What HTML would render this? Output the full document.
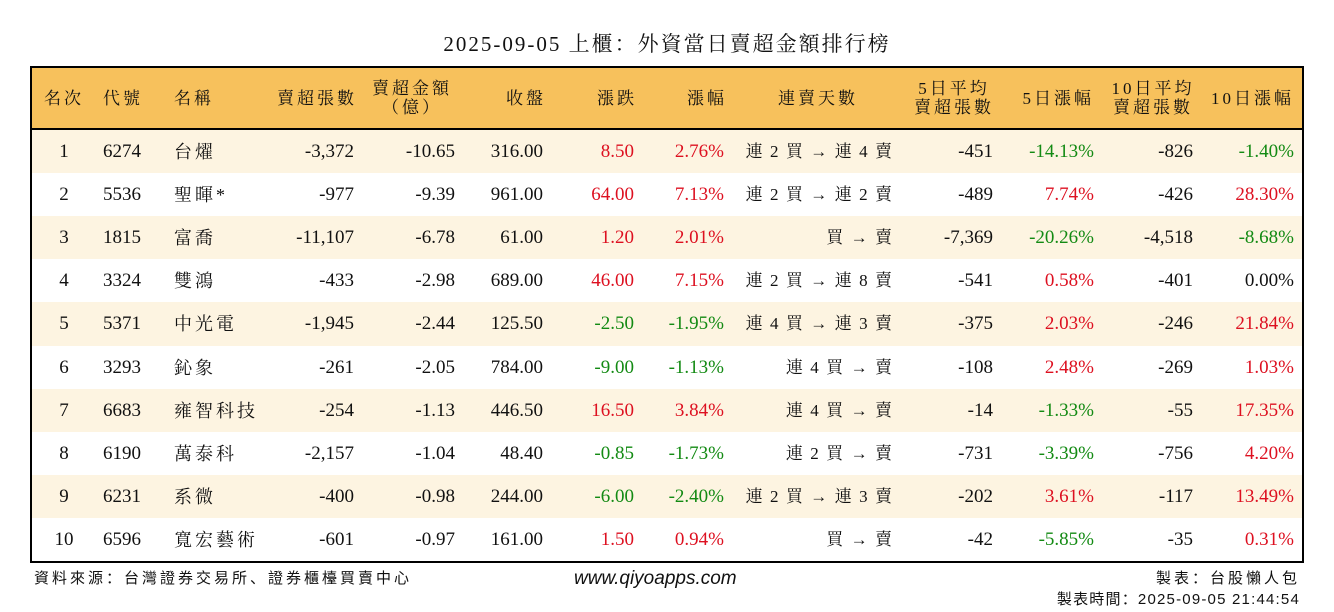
<!DOCTYPE html>
<html><head><meta charset="utf-8">
<style>
body{margin:0;width:1334px;height:612px;background:#fff;position:relative;overflow:hidden;font-family:"Liberation Serif","Noto Serif CJK SC",serif;color:#111}
.a{position:absolute;white-space:nowrap}
#title{left:0;width:1334px;top:28px;text-align:center;font-size:21px;letter-spacing:2px}
#tbl{position:absolute;left:30px;top:66px;width:1270px;height:493px;border:2px solid #000;overflow:hidden}
#hdr{position:absolute;left:0;top:0;width:1270px;height:60px;background:#f7c15c;border-bottom:2px solid #000}
.h{position:absolute;font-size:17px;line-height:19px;text-align:center;letter-spacing:3px}
.row{position:absolute;left:0;width:1270px;height:43.2px}
.c{position:absolute;font-size:19px;top:11px;line-height:22px;white-space:nowrap}
.cj{letter-spacing:3px;font-size:18px}
.r{color:#dd1020}.g{color:#138a13}
.ft{font-family:"Liberation Sans","Noto Sans CJK SC",sans-serif;font-size:15px;letter-spacing:3px}
</style></head><body>
<div class="a" id="title">2025-09-05 上櫃：外資當日賣超金額排行榜</div>
<div id="tbl">
<div id="hdr">
<div class="h" style="left:2px;width:60px;top:21px">名次</div>
<div class="h" style="left:71px;top:21px">代號</div>
<div class="h" style="left:142px;top:21px">名稱</div>
<div class="h" style="right:945px;top:21px">賣超張數</div>
<div class="h" style="left:330px;width:100px;top:11px">賣超金額<br>（億）</div>
<div class="h" style="right:756px;top:21px">收盤</div>
<div class="h" style="right:665px;top:21px">漲跌</div>
<div class="h" style="right:575px;top:21px">漲幅</div>
<div class="h" style="left:736px;width:100px;top:21px">連賣天數</div>
<div class="h" style="left:872px;width:100px;top:11px">5日平均<br>賣超張數</div>
<div class="h" style="right:208px;top:21px">5日漲幅</div>
<div class="h" style="left:1071px;width:100px;top:11px">10日平均<br>賣超張數</div>
<div class="h" style="right:8px;top:21px">10日漲幅</div>
</div>
</div>
<div class="a ft" style="left:34px;top:567px">資料來源：台灣證券交易所、證券櫃檯買賣中心</div>
<div class="a" style="left:574px;top:568px;font-family:'Liberation Sans',sans-serif;font-style:italic;font-size:19px">www.qiyoapps.com</div>
<div class="a ft" style="right:34px;top:567px">製表：台股懶人包</div>
<div class="a ft" style="right:34px;top:588px;letter-spacing:1.2px">製表時間：2025-09-05 21:44:54</div>
<script>
const codes=["6274","5536","1815","3324","5371","3293","6683","6190","6231","6596"];
const names=["台燿","聖暉*","富喬","雙鴻","中光電","鈊象","雍智科技","萬泰科","系微","寬宏藝術"];
const shares=["-3,372","-977","-11,107","-433","-1,945","-261","-254","-2,157","-400","-601"];
const amounts=["-10.65","-9.39","-6.78","-2.98","-2.44","-2.05","-1.13","-1.04","-0.98","-0.97"];
const closes=["316.00","961.00","61.00","689.00","125.50","784.00","446.50","48.40","244.00","161.00"];
const changes=["8.50","64.00","1.20","46.00","-2.50","-9.00","16.50","-0.85","-6.00","1.50"];
const pcts=["2.76%","7.13%","2.01%","7.15%","-1.95%","-1.13%","3.84%","-1.73%","-2.40%","0.94%"];
const streaks=["連 2 買 → 連 4 賣","連 2 買 → 連 2 賣","買 → 賣","連 2 買 → 連 8 賣","連 4 買 → 連 3 賣","連 4 買 → 賣","連 4 買 → 賣","連 2 買 → 賣","連 2 買 → 連 3 賣","買 → 賣"];
const avg5=["-451","-489","-7,369","-541","-375","-108","-14","-731","-202","-42"];
const pct5=["-14.13%","7.74%","-20.26%","0.58%","2.03%","2.48%","-1.33%","-3.39%","3.61%","-5.85%"];
const avg10=["-826","-426","-4,518","-401","-246","-269","-55","-756","-117","-35"];
const pct10=["-1.40%","28.30%","-8.68%","0.00%","21.84%","1.03%","17.35%","4.20%","13.49%","0.31%"];
const tbl=document.getElementById('tbl');
function col(v){const n=parseFloat(v.replace(/,/g,''));return n>0?'r':n<0?'g':'';}
function cell(row,txt,style,cls,nm){
  const d=document.createElement('div');
  d.className='c '+(cls||'');d.style.cssText=style;d.textContent=txt;
  
  
  row.appendChild(d);
}
for(let i=0;i<codes.length;i++){
  const row=document.createElement('div');
  row.className='row';
  row.style.top=(62+i*43.1)+'px';
  row.style.background=i%2===0?'#fdf4e1':'#fff';
  
  
  cell(row,String(i+1),'left:2px;width:60px;text-align:center','', 'rank');
  cell(row,codes[i],'left:71px','','stock-code');
  cell(row,names[i],'left:142px;top:11px','cj','stock-name');
  cell(row,shares[i],'right:948px','','sell-shares');
  cell(row,amounts[i],'right:847px','','sell-amount');
  cell(row,closes[i],'right:759px','','close-price');
  cell(row,changes[i],'right:668px',col(changes[i]),'price-change');
  cell(row,pcts[i],'right:578px',col(pcts[i]),'change-pct');
  cell(row,streaks[i].replace(/ /g,'\u2009'),'right:408px;top:11px;font-size:17px;letter-spacing:2px','','streak');
  cell(row,avg5[i],'right:309px','','avg-5d');
  cell(row,pct5[i],'right:208px',col(pct5[i]),'pct-5d');
  cell(row,avg10[i],'right:109px','','avg-10d');
  cell(row,pct10[i],'right:8px',col(pct10[i]),'pct-10d');
  tbl.appendChild(row);
}
</script>
</body></html>
